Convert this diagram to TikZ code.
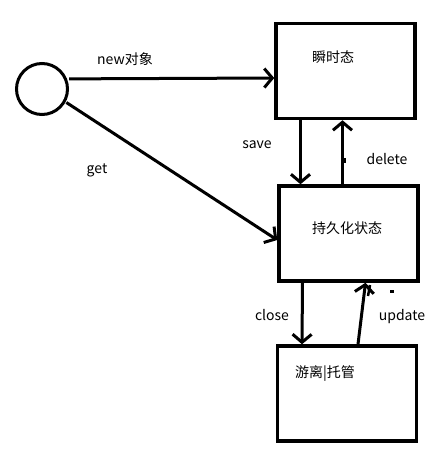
\documentclass[tikz,border=0pt]{standalone}
\usepackage{fontspec}
\setmainfont{Noto Sans CJK SC}
\usetikzlibrary{arrows.meta}
\tikzset{
	state/.style={draw, line width=3.5pt, minimum width=139pt, minimum height=95pt, inner sep=0pt},
	arr/.style={line width=3pt, -{Straight Barb[length=8pt, width=19pt]}},
	lbl/.style={font=\fontsize{14}{16}\selectfont, inner sep=0pt}
}
\begin{document}
\begin{tikzpicture}[x=1pt, y=-1pt]
				\useasboundingbox (0,0) rectangle (433,453);
				\node [draw, circle, line width=3pt, minimum size=51pt, inner sep=0pt] (init) at (42,89) {};
				\node [state] (transient) at (345.5,71) {};
				\node [state] (persistent) at (348.5,233.5) {};
				\node [state] (detached) at (347,393.5) {};
				
				\node [lbl] at (333,57) {瞬时态};
				\node [lbl] at (347,228) {持久化状态};
				\node [lbl] at (325,374) {游离|托管};
				
				\draw[arr] ([xshift=2pt]init.22) -- (transient.west |- 0,78)
				node [lbl, at={(125,59)}] {new对象};
				
				\draw[arr] ([xshift=1pt]init.-30) -- (persistent.west |- 0,240);
				\node [lbl] at (97,170) {get};
				
				\draw[arr] ([xshift=-45pt]transient.south) -- ([xshift=-48pt]persistent.north)
				node [lbl, at={(257,145)}] {save};
				
				\draw[arr] ([xshift=-6pt]persistent.north) -- ([xshift=-3pt]transient.south)
				node [lbl, at={(387,159)}] {delete};
				
				\draw[arr] ([xshift=-46pt]persistent.south) -- ([xshift=-45pt]detached.north)
				node [lbl, at={(272,315)}] {close};
				
				\draw[arr] ([xshift=11pt]detached.north) -- ([xshift=17pt]persistent.south)
				node [lbl, at={(402,317)}] {update};
				
				\draw[line width=2.5pt] (370,285) -- (368,296);
				\fill (343,158) rectangle (346,163);
				\fill (390,290) rectangle (394,292.5);
			\end{tikzpicture}
\end{document}
